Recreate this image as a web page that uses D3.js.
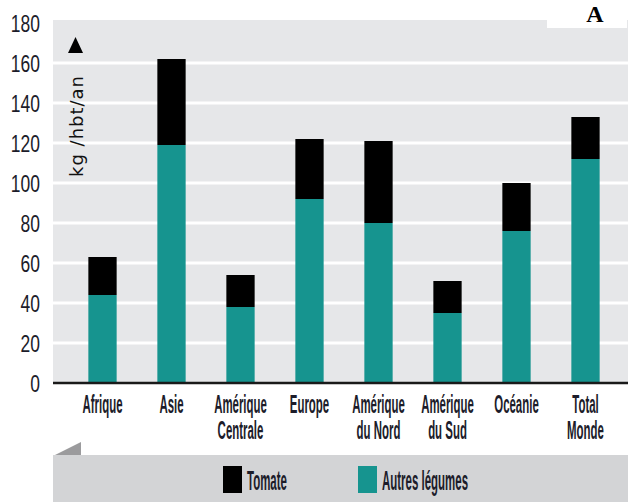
<!DOCTYPE html>
<html>
<head>
<meta charset="utf-8">
<script src="https://cdn.jsdelivr.net/npm/d3@7"></script>
<style>
  body { margin: 0; background: #fff; }
  svg { display: block; }
</style>
</head>
<body>
<div id="chart"></div>
<script>
// values (kg / hbt / an)
var categories = ["Afrique", "Asie", "Amérique Centrale", "Europe", "Amérique du Nord", "Amérique du Sud", "Océanie", "Total Monde"];
var autres = [44, 119, 38, 92, 80, 35, 76, 112];
var tomate = [19, 43, 16, 30, 41, 16, 24, 21];
var yTicks = [0, 20, 40, 60, 80, 100, 120, 140, 160, 180];
var legendLabels = ["Tomate", "Autres légumes"];

var width = 628, height = 502;
var plotLeft = 53, plotTop = 20, plotBottom = 383;
var teal = "#16948f", gridBg = "#e6e7e9", legendBg = "#d3d4d6";
// no condensed face installed, so the regular one is squeezed with scale()
var sans = '"Liberation Sans", Arial, sans-serif';

var svg = d3.select("#chart").append("svg")
    .attr("width", width)
    .attr("height", height);

var rows = categories.map(function(c, i) {
    return {cat: c, autres: autres[i], tomate: tomate[i]};
});
var series = d3.stack().keys(["autres", "tomate"])(rows);
var colors = {autres: teal, tomate: "#000"};

var x = d3.scaleBand()
    .domain(categories)
    .range([68, 620])
    .paddingInner(0.59)
    .paddingOuter(0.295);

var y = d3.scaleLinear()
    .domain([0, 180])
    .range([plotBottom, 23]);

// plot background
svg.append("rect")
    .attr("x", plotLeft).attr("y", plotTop)
    .attr("width", width - plotLeft).attr("height", plotBottom - plotTop)
    .attr("fill", gridBg);

// white gridlines
svg.append("g").selectAll("line")
    .data(yTicks.filter(function(d) { return d > 0 && d < 180; }))
    .join("line")
    .attr("x1", plotLeft).attr("x2", width)
    .attr("y1", function(d) { return y(d); })
    .attr("y2", function(d) { return y(d); })
    .attr("stroke", "#fff")
    .attr("stroke-width", 3);

// bars
svg.append("g").selectAll("g")
    .data(series)
    .join("g")
    .attr("fill", function(s) { return colors[s.key]; })
    .selectAll("rect")
    .data(function(s) { return s; })
    .join("rect")
    .attr("x", function(d) { return x(d.data.cat); })
    .attr("width", x.bandwidth())
    .attr("y", function(d) { return y(d[1]); })
    .attr("height", function(d) { return y(d[0]) - y(d[1]); });

// baseline
svg.append("line")
    .attr("x1", plotLeft).attr("x2", width)
    .attr("y1", plotBottom).attr("y2", plotBottom)
    .attr("stroke", "#1a1a1a")
    .attr("stroke-width", 2.5);

// y axis labels
var yAxis = svg.append("g")
    .attr("transform", "translate(" + plotLeft + ",0)")
    .call(d3.axisLeft(y).tickValues(yTicks).tickSize(0).tickFormat(""));
yAxis.select(".domain").remove();
yAxis.selectAll(".tick text")
    .attr("x", null)
    .attr("dy", null)
    .attr("transform", "translate(-13,8) scale(0.76,1)")
    .attr("font-family", sans)
    .attr("font-size", 23)
    .attr("fill", "#1c1c2a")
    .text(function(d) { return d; });

// x axis labels, split on the first space
var xAxis = svg.append("g")
    .attr("transform", "translate(0," + plotBottom + ")")
    .call(d3.axisBottom(x).tickSize(0).tickFormat(""));
xAxis.select(".domain").remove();
xAxis.selectAll(".tick text")
    .attr("font-family", sans)
    .attr("font-size", 26)
    .attr("font-weight", "bold")
    .attr("fill", "#1c1c2a")
    .attr("transform", "scale(0.44,1)")
    .attr("dy", null)
    .attr("y", 30)
    .each(function(d) {
        var k = d.indexOf(" ");
        var lines = k < 0 ? [d] : [d.slice(0, k), d.slice(k + 1)];
        d3.select(this).selectAll("tspan")
            .data(lines)
            .join("tspan")
            .attr("x", 0)
            .attr("y", function(l, i) { return 30 + i * 26; })
            .text(function(l) { return l; });
    });

// y axis title with arrow
svg.append("text")
    .attr("transform", "translate(83,177) rotate(-90)")
    .attr("font-family", '"DejaVu Sans", sans-serif')
    .attr("font-size", 18)
    .attr("letter-spacing", 1)
    .attr("fill", "#111")
    .text("kg /hbt/an");
svg.append("path")
    .attr("d", "M75.5,37 L83,53 L68,53 Z")
    .attr("fill", "#000");

// legend band
svg.append("path")
    .attr("d", "M55,455 L81,442 L81,455 Z")
    .attr("fill", "#9b9b9d");
svg.append("rect")
    .attr("x", plotLeft).attr("y", 455)
    .attr("width", width - plotLeft).attr("height", height - 455)
    .attr("fill", legendBg);

var legendX = [223, 358];
var legendColors = ["#000", teal];
var leg = svg.append("g").selectAll("g")
    .data(legendLabels)
    .join("g")
    .attr("transform", function(d, i) { return "translate(" + legendX[i] + ",466)"; });
leg.append("rect")
    .attr("width", 19).attr("height", 27)
    .attr("fill", function(d, i) { return legendColors[i]; });
leg.append("text")
    .attr("transform", "translate(24,24) scale(0.41,1)")
    .attr("font-family", sans)
    .attr("font-size", 28)
    .attr("font-weight", "bold")
    .attr("fill", "#1c1c2a")
    .text(function(d) { return d; });

// panel letter box
svg.append("rect")
    .attr("x", 547).attr("y", 0)
    .attr("width", 80).attr("height", 28)
    .attr("fill", "#fff");
svg.append("text")
    .attr("x", 595).attr("y", 22)
    .attr("text-anchor", "middle")
    .attr("font-family", '"Liberation Serif", serif')
    .attr("font-weight", "bold")
    .attr("font-size", 24)
    .attr("fill", "#000")
    .text("A");
</script>
</body>
</html>
